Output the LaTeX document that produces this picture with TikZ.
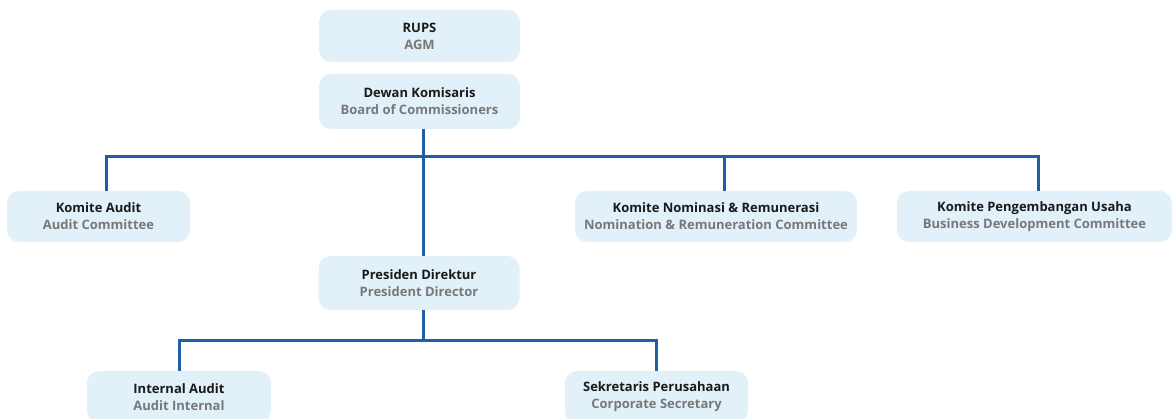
\documentclass[tikz,border=0pt]{standalone}
\usepackage{fontspec}
\setmainfont{Open Sans}
\definecolor{boxfill}{HTML}{E2F0F9}
\definecolor{linecol}{HTML}{1D60A8}
\definecolor{subgray}{HTML}{787878}
\definecolor{titleblk}{HTML}{1A1A1A}
\tikzset{
  orgbox/.style={fill=boxfill, rounded corners=12pt, inner sep=0pt, align=center,
    font=\fontsize{13}{17}\selectfont\bfseries, text=titleblk},
  conn/.style={draw=linecol, line width=3pt}
}
\newcommand{\sub}[1]{\textcolor{subgray}{#1}}
\begin{document}
\begin{tikzpicture}[x=1pt,y=-1pt]
\useasboundingbox (0,0) rectangle (1173,419);
\clip (0,0) rectangle (1173,419);
% boxes
\node[orgbox, minimum width=201pt, minimum height=52pt] (rups) at (419.5,36) {RUPS\\\sub{AGM}};
\node[orgbox, minimum width=201pt, minimum height=55pt] (dk) at (419.5,101.5) {Dewan Komisaris\\\sub{Board of Commissioners}};
\node[orgbox, minimum width=183pt, minimum height=51pt] (ka) at (98.5,216.5) {Komite Audit\\\sub{Audit Committee}};
\node[orgbox, minimum width=282pt, minimum height=51pt] (kn) at (716,216.5) {Komite Nominasi \& Remunerasi\\\sub{Nomination \& Remuneration Committee}};
\node[orgbox, minimum width=275pt, minimum height=51pt] (kp) at (1034.5,216.5) {Komite Pengembangan Usaha\\\sub{Business Development Committee}};
\node[orgbox, minimum width=201pt, minimum height=54pt] (pd) at (419,283) {Presiden Direktur\\\sub{President Director}};
\node[orgbox, minimum width=184pt, minimum height=52pt] (ia) at (179,397) {Internal Audit\\\sub{Audit Internal}};
\node[orgbox, minimum width=183pt, minimum height=52pt] (sp) at (656.5,397) {Sekretaris Perusahaan\\\sub{Corporate Secretary}};
% connector positions
\coordinate (t) at (423,157);
\coordinate (kax) at (106,157);
\coordinate (knx) at (724,157);
\coordinate (kpx) at (1038,157);
\coordinate (b) at (423,341);
\coordinate (iax) at (179,341);
\coordinate (spx) at (656,341);
% connectors
\draw[conn] (dk.south -| t) -- (pd.north -| t);
\draw[conn] (ka.north -| kax) -- (kax) -- (kpx) -- (kp.north -| kpx);
\draw[conn] (knx) -- (kn.north -| knx);
\draw[conn] (pd.south -| b) -- (b);
\draw[conn] (ia.north -| iax) -- (iax) -- (spx) -- (sp.north -| spx);
\end{tikzpicture}
\end{document}
